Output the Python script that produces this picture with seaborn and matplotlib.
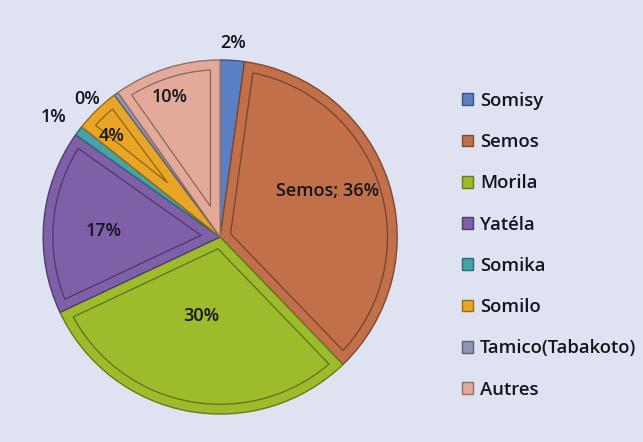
import numpy as np
import matplotlib
matplotlib.use("Agg")
import matplotlib.pyplot as plt
from matplotlib.patches import Polygon
import matplotlib.colors as mcolors
import seaborn as sns

# data (percent of production)
names = ['Somisy', 'Semos', 'Morila', 'Yatéla', 'Somika', 'Somilo',
         'Tamico(Tabakoto)', 'Autres']
shares = [2.2, 35.6, 30.2, 16.8, 0.9, 4.1, 0.4, 9.8]
pct_text = ['2%', 'Semos; 36%', '30%', '17%', '1%', '4%', '0%', '10%']

colors = ['#5a7fc2', '#c2704a', '#9cbc2c', '#7e5fa8', '#46a3a8', '#e9a626',
          '#8f97b4', '#e3aa9b']

# label placement: (radius, angle nudge in degrees)
label_pos = [(1.10, 0), (0.66, 5), (0.46, -3), (0.66, 2),
             (1.16, 1), (0.84, 3), (1.08, 8), (0.84, 2)]

sns.set_theme(style='white')
plt.rcParams['font.family'] = ['Open Sans', 'DejaVu Sans']

bg = '#dfe2f0'
fig = plt.figure(figsize=(6.43, 4.42), dpi=100, facecolor=bg)
ax = fig.add_axes([0.0669, 0.0633, 0.551, 0.801])
ax.set_facecolor(bg)


def darker(c, f=0.72):
    r, g, b = mcolors.to_rgb(c)
    return (r * f, g * f, b * f)


wedges, _ = ax.pie(shares, colors=colors, startangle=90, counterclock=False,
                   radius=1.0,
                   wedgeprops=dict(linewidth=1.0, edgecolor='#6d6d7a'))
for w, c in zip(wedges, colors):
    w.set_edgecolor(darker(c, 0.65))

# inner bevel outline of each slice
d = 0.055
R = 1.0
for w, c in zip(wedges, colors):
    t1, t2 = np.radians(w.theta1), np.radians(w.theta2)
    a = (t2 - t1) / 2
    if a < np.radians(4):
        continue
    mid = (t1 + t2) / 2
    P = d / np.sin(a) * np.array([np.cos(mid), np.sin(mid)])
    Rp = R - d
    pts_end = []
    for t in (t1, t2):
        u = np.array([np.cos(t), np.sin(t)])
        b = 2 * P.dot(u)
        cc = P.dot(P) - Rp ** 2
        s = (-b + np.sqrt(b * b - 4 * cc)) / 2
        pts_end.append(P + s * u)
    p1 = np.arctan2(pts_end[0][1], pts_end[0][0])
    p2 = np.arctan2(pts_end[1][1], pts_end[1][0])
    if p2 < p1:
        p2 += 2 * np.pi
    arc = np.linspace(p1, p2, 60)
    poly = [P] + [Rp * np.array([np.cos(x), np.sin(x)]) for x in arc]
    ax.add_patch(Polygon(poly, closed=True, fill=False,
                         edgecolor=darker(c, 0.6), linewidth=0.9))

for w, txt, (r, nudge) in zip(wedges, pct_text, label_pos):
    ang = np.radians((w.theta1 + w.theta2) / 2 + nudge)
    ax.text(r * np.cos(ang), r * np.sin(ang), txt, ha='center', va='center',
            fontsize=13, color='#15151f', fontweight='semibold')

ax.set_xlim(-1, 1)
ax.set_ylim(-1, 1)
ax.set_aspect('equal')

leg = fig.legend(wedges, names, loc='upper left', bbox_to_anchor=(0.692, 0.83),
                 frameon=False, labelspacing=1.26,
                 handlelength=0.6, handleheight=0.6, handletextpad=0.4,
                 prop=dict(size=13.3, weight='semibold'))
for t in leg.get_texts():
    t.set_color('#15151f')

fig.savefig('out.png', dpi=100, facecolor=bg)
